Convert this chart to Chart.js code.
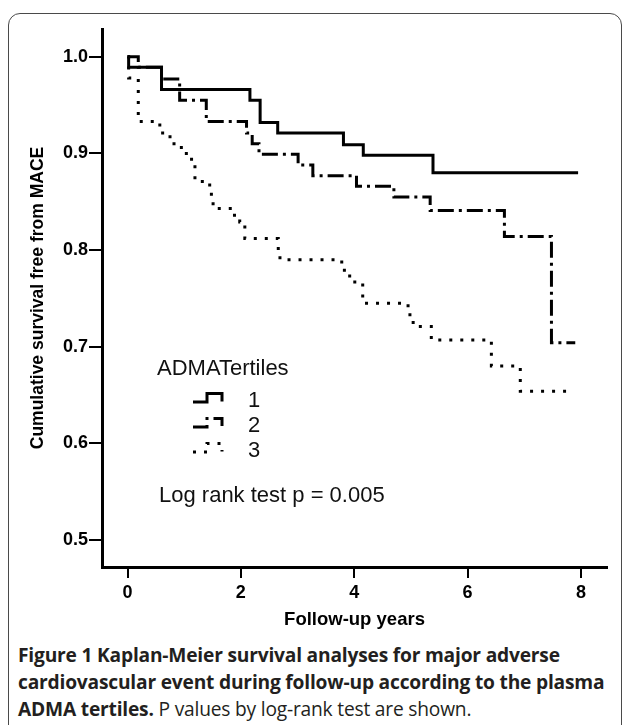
<!DOCTYPE html>
<html>
<head>
<meta charset="utf-8">
<script src="https://cdn.jsdelivr.net/npm/chart.js@4.4.1/dist/chart.umd.min.js"></script>
<style>
  html, body { margin: 0; padding: 0; background: #fff; }
  body { width: 627px; height: 725px; position: relative; overflow: hidden; }
  #frame {
    position: absolute; left: 8px; top: 13px; width: 614px; height: 760px;
    border: 1.5px solid #4a4a4a; border-radius: 12px; box-sizing: border-box;
  }
  #plot { position: absolute; left: 0; top: 0; }
  #caption {
    position: absolute; left: 18px; top: 641px;
    font-family: "Open Sans", sans-serif; font-size: 19.2px; line-height: 27px;
    color: #231f20; white-space: nowrap; letter-spacing: -0.2px;
  }
  #caption b { font-weight: 700; }
</style>
</head>
<body>
<div id="frame"></div>
<canvas id="plot" width="627" height="640"></canvas>
<div id="caption">
  <b>Figure 1 Kaplan-Meier survival analyses for major adverse</b><br>
  <b>cardiovascular event during follow-up according to the plasma</b><br>
  <b>ADMA tertiles.</b> P values by log-rank test are shown.
</div>
<script>
'use strict';

// Kaplan-Meier steps: survival value holds from each time on
var tertile1Years = [0, 0.02, 0.60, 2.16, 2.34, 2.65, 3.81, 4.16, 5.39, 7.95];
var tertile1Surv  = [1.0, 0.989, 0.966, 0.955, 0.932, 0.921, 0.909, 0.898, 0.880, 0.880];

var tertile2Years = [0, 0.19, 0.60, 0.92, 1.39, 2.10, 2.20, 2.32, 3.01, 3.27, 4.04, 4.70, 5.34, 6.65, 7.48, 7.90];
var tertile2Surv  = [1.0, 0.989, 0.977, 0.955, 0.933, 0.921, 0.910, 0.899, 0.888, 0.877, 0.866, 0.855, 0.841, 0.814, 0.704, 0.704];

var tertile3Years = [0, 0.02, 0.19, 0.57, 0.75, 0.95, 1.13, 1.19, 1.45, 1.48, 1.51, 1.84, 1.98, 2.07, 2.66, 2.69,
                     3.78, 3.92, 4.15, 4.95, 5.04, 5.36, 6.42, 6.93, 7.87];
var tertile3Surv  = [1.0, 0.978, 0.933, 0.921, 0.910, 0.900, 0.888, 0.871, 0.862, 0.852, 0.843, 0.836, 0.829, 0.812, 0.800, 0.790,
                     0.779, 0.767, 0.745, 0.733, 0.721, 0.707, 0.680, 0.654, 0.654];

var groupLabels = ['1', '2', '3'];
var legendTitle = 'ADMATertiles';
var testNote = 'Log rank test p = 0.005';

var xTicks = [0, 2, 4, 6, 8];
var yTicks = [0.5, 0.6, 0.7, 0.8, 0.9, 1.0];

var axisFont = 'Liberation Sans, Arial, sans-serif';

function toPoints(xs, ys) {
    var pts = [];
    for (var i = 0; i < xs.length; i++) {
        pts.push({ x: xs[i], y: ys[i] });
    }
    return pts;
}

function series(label, xs, ys, dash) {
    return {
        label: label,
        data: toPoints(xs, ys),
        borderColor: '#000',
        borderWidth: 3,
        borderDash: dash,
        borderCapStyle: 'butt',
        stepped: 'before',
        pointRadius: 0,
        fill: false
    };
}

// legend and p value note drawn inside the plot area
var notePlugin = {
    id: 'notes',
    afterDatasetsDraw: function (chart) {
        var ctx = chart.ctx;
        ctx.save();
        ctx.fillStyle = '#111';
        ctx.font = '22px ' + axisFont;
        ctx.textBaseline = 'alphabetic';
        ctx.fillText(legendTitle, 157, 375);

        var rows = [398.5, 423.5, 448.5];
        chart.data.datasets.forEach(function (ds, i) {
            var y = rows[i];
            ctx.save();
            ctx.strokeStyle = ds.borderColor;
            ctx.lineWidth = ds.borderWidth;
            ctx.setLineDash(ds.borderDash || []);
            ctx.beginPath();
            ctx.moveTo(193, y + 3.5);
            ctx.lineTo(207, y + 3.5);
            ctx.lineTo(207, y - 5);
            ctx.lineTo(222, y - 5);
            ctx.lineTo(222, y + 3);
            ctx.stroke();
            ctx.restore();
            ctx.fillText(groupLabels[i], 248, y + 8);
        });

        ctx.fillText(testNote, 159, 502);
        ctx.restore();
    }
};

var ctx = document.getElementById('plot').getContext('2d');

var myChart = new Chart(ctx, {
    type: 'line',
    data: {
        datasets: [
            series(groupLabels[0], tertile1Years, tertile1Surv, []),
            series(groupLabels[1], tertile2Years, tertile2Surv, [16, 5, 3, 5]),
            series(groupLabels[2], tertile3Years, tertile3Surv, [3, 8])
        ]
    },
    options: {
        responsive: false,
        animation: false,
        layout: { padding: { top: 29, right: 20, left: 0, bottom: 0 } },
        plugins: {
            legend: { display: false },
            tooltip: { enabled: false }
        },
        scales: {
            x: {
                type: 'linear',
                min: -0.45,
                max: 8.46,
                afterBuildTicks: function (scale) {
                    scale.ticks = xTicks.map(function (v) { return { value: v }; });
                },
                afterFit: function (scale) { scale.height = 73; },
                border: { display: true, color: '#000', width: 3 },
                grid: { display: true, drawOnChartArea: false, drawTicks: true, tickLength: 11, color: '#000', lineWidth: 2 },
                ticks: {
                    autoSkip: false,
                    maxRotation: 0,
                    padding: 4,
                    color: '#000',
                    font: { family: axisFont, size: 18, weight: 'bold' },
                    callback: function (v) { return String(v); }
                },
                title: {
                    display: true,
                    text: 'Follow-up years',
                    color: '#000',
                    font: { family: axisFont, size: 18.5, weight: 'bold' },
                    padding: { top: 0, bottom: 9 }
                }
            },
            y: {
                type: 'linear',
                min: 0.4721,
                max: 1.0287,
                afterBuildTicks: function (scale) {
                    scale.ticks = yTicks.map(function (v) { return { value: v }; });
                },
                afterFit: function (scale) { scale.width = 102; },
                border: { display: true, color: '#000', width: 3 },
                grid: { display: true, drawOnChartArea: false, drawTicks: true, tickLength: 13, color: '#000', lineWidth: 2 },
                ticks: {
                    autoSkip: false,
                    padding: 1,
                    color: '#000',
                    font: { family: axisFont, size: 18, weight: 'bold' },
                    callback: function (v) { return v.toFixed(1); }
                },
                title: {
                    display: true,
                    text: 'Cumulative survival free from MACE',
                    color: '#000',
                    font: { family: axisFont, size: 17.5, weight: 'bold' },
                    padding: { top: 28, bottom: 0 }
                }
            }
        }
    },
    plugins: [notePlugin]
});
</script>
</body>
</html>
